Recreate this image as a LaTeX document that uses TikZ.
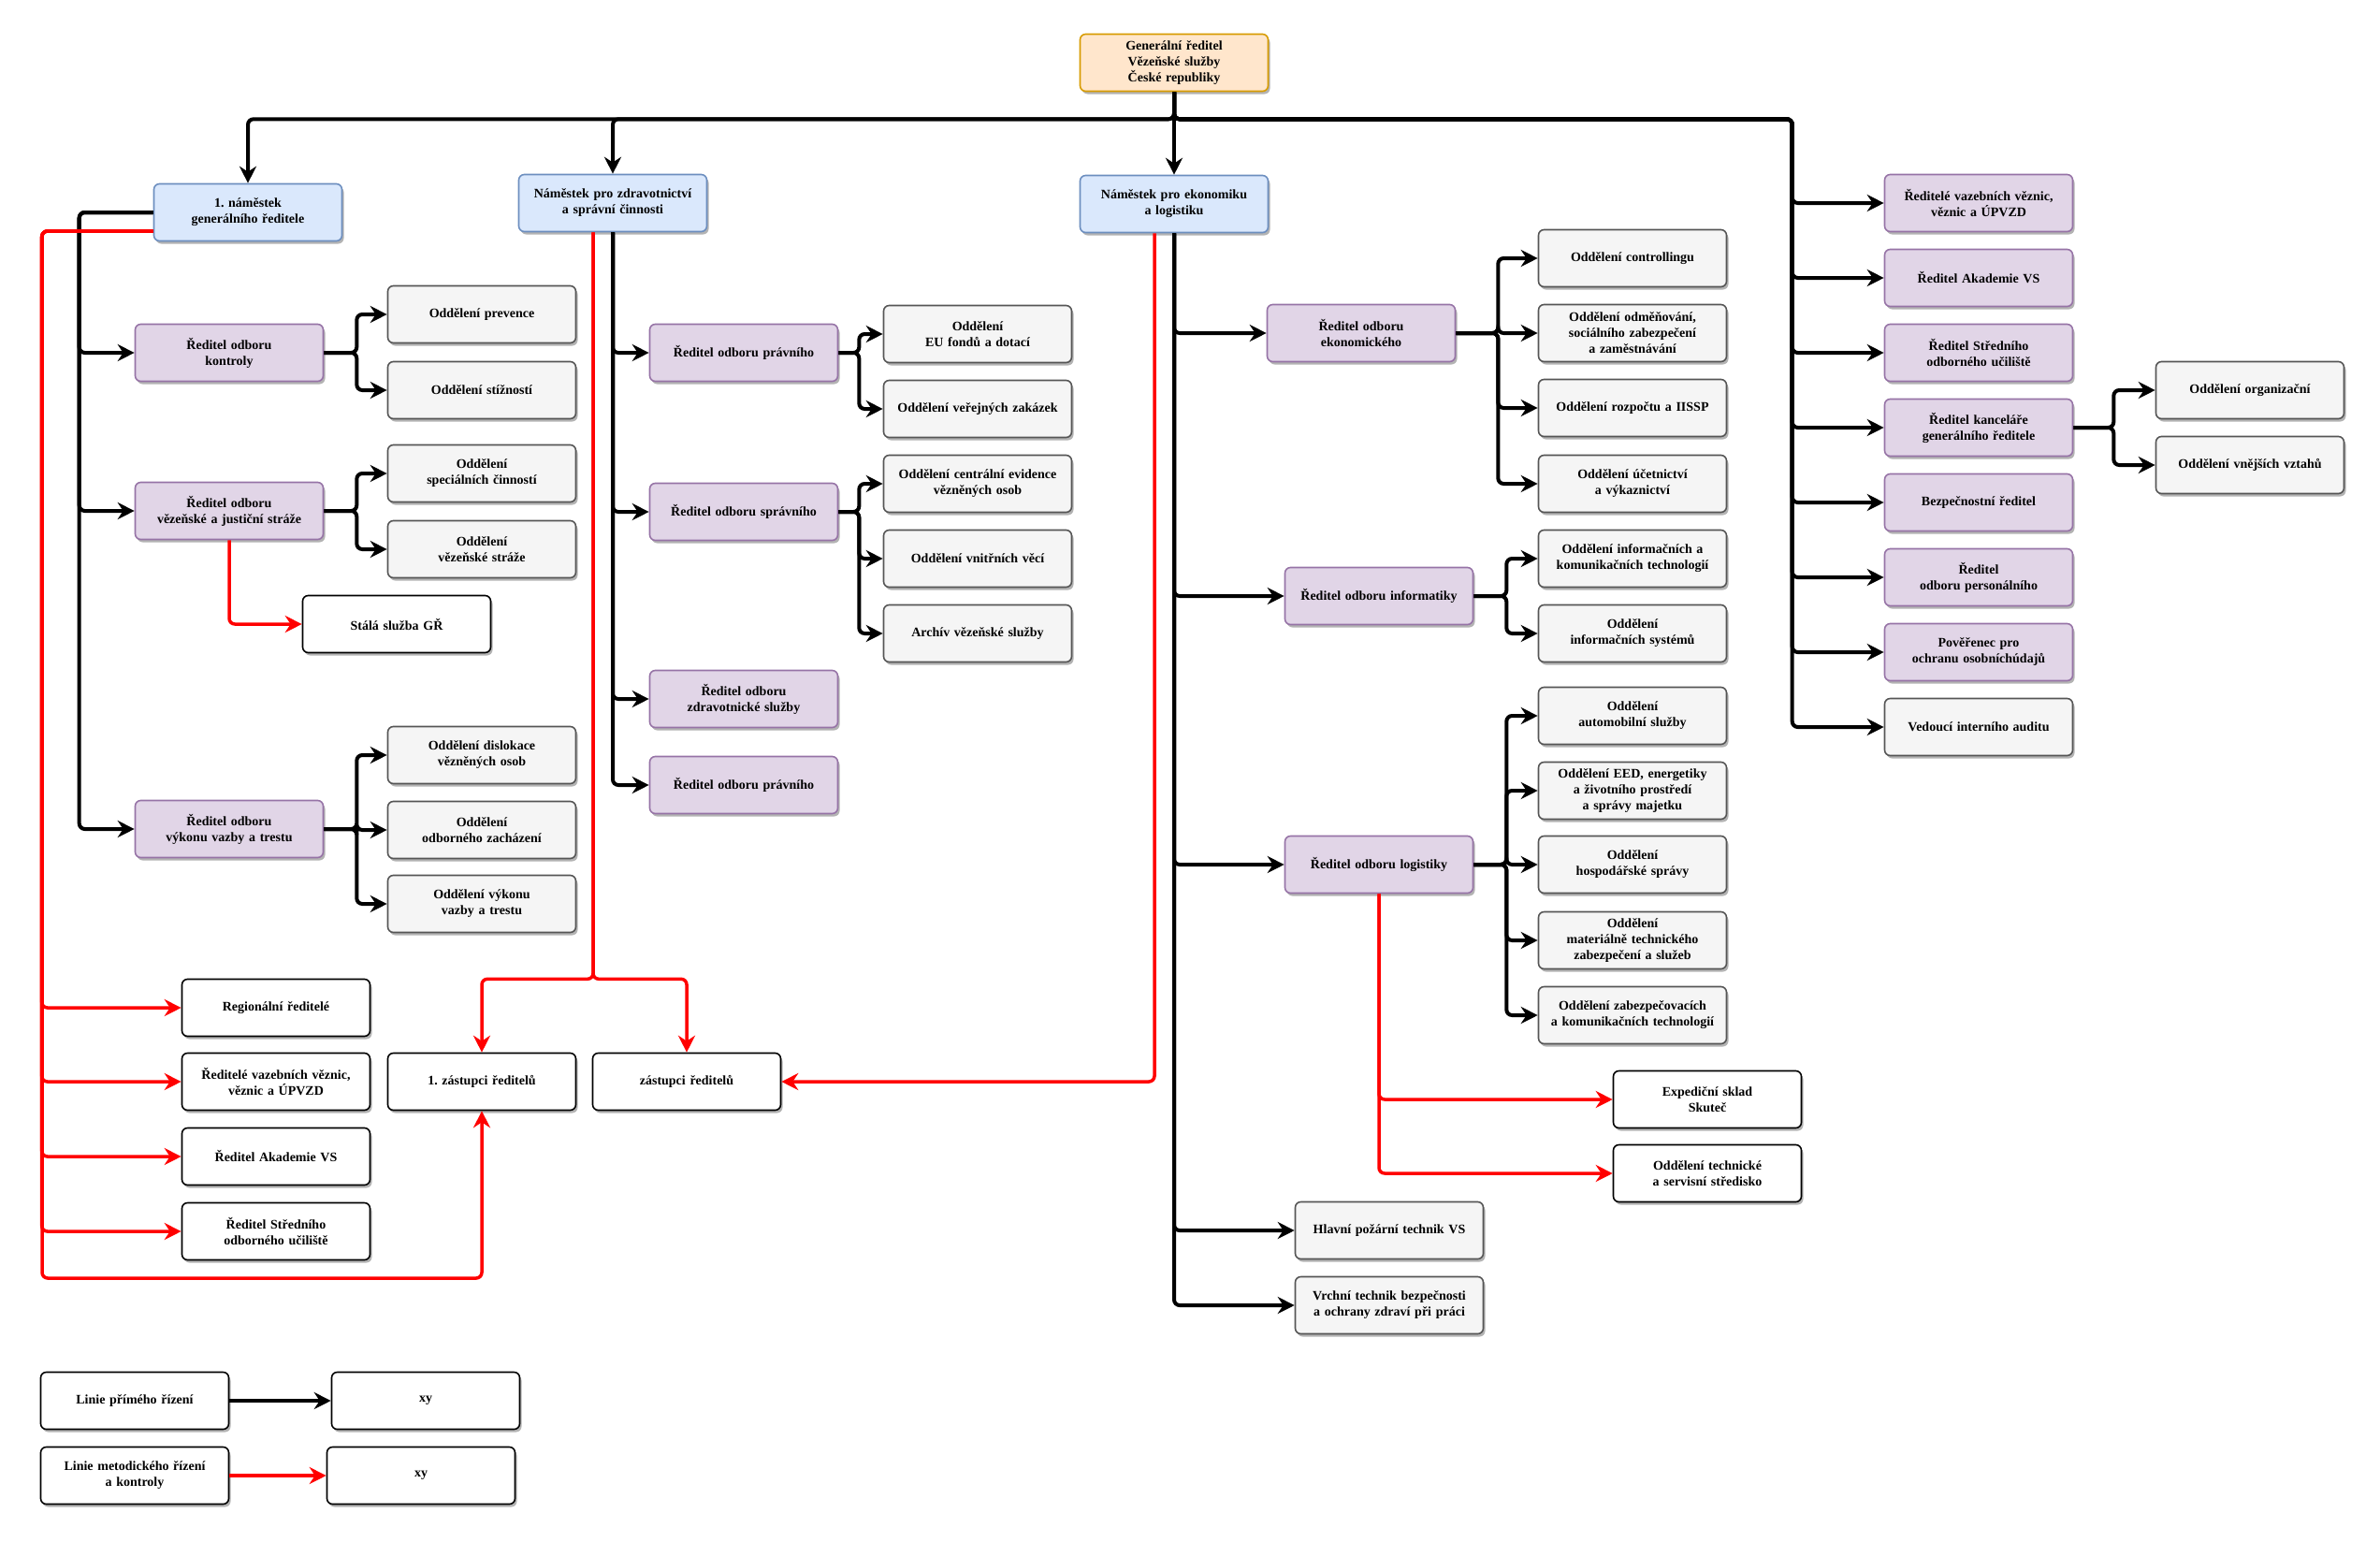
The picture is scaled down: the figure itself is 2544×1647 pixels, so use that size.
\documentclass[tikz,border=0pt]{standalone}
\usepackage{fontspec}
\setmainfont{Liberation Serif}
\usetikzlibrary{arrows.meta,shadows}

\definecolor{grfill}{HTML}{FFE6CC}
\definecolor{grline}{HTML}{D79B00}
\definecolor{depfill}{HTML}{DAE8FC}
\definecolor{depline}{HTML}{6C8EBF}
\definecolor{headfill}{HTML}{E1D5E7}
\definecolor{headline}{HTML}{9673A6}
\definecolor{unitfill}{HTML}{F5F5F5}
\definecolor{unitline}{HTML}{555555}

\begin{document}
\frenchspacing
\begin{tikzpicture}[x=1pt, y=-1pt,
 box/.style={draw, rounded corners=6pt, line width=1.6pt, minimum width=201pt, minimum height=61pt,
   text width=195pt, align=center, inner sep=0pt, font=\fontsize{14}{17}\selectfont\bfseries,
   drop shadow={shadow xshift=2pt, shadow yshift=-3pt, opacity=0.6}},
 gr/.style={box, fill=grfill, draw=grline},
 dep/.style={box, fill=depfill, draw=depline},
 head/.style={box, fill=headfill, draw=headline},
 unit/.style={box, fill=unitfill, draw=unitline},
 plain/.style={box, fill=white, draw=black},
 direct/.style={line width=4pt, rounded corners=6pt, -{Stealth[length=18pt,width=18pt,inset=6pt]}},
 method/.style={direct, line width=3.5pt, draw=red}]
\useasboundingbox (0,0) rectangle (2544,1647);
\coordinate (redcorner) at (45,1366);

\node[gr] (gr) at (1255,67) {Generální ředitel\\Vězeňské služby\\České republiky};
\node[dep] (n1) at (265,227) {1. náměstek\\generálního ředitele};
\node[dep] (n2) at (655,217) {Náměstek pro zdravotnictví\\a správní činnosti};
\node[dep] (n3) at (1255,218) {Náměstek pro ekonomiku\\a logistiku};

\node[head] (kontrola) at (245,377) {Ředitel odboru\\kontroly};
\node[head] (straz) at (245,546) {Ředitel odboru\\vězeňské a justiční stráže};
\node[head] (vykon) at (245,886) {Ředitel odboru\\výkonu vazby a trestu};
\node[unit] (prevence) at (515,336) {Oddělení prevence};
\node[unit] (stiznosti) at (515,417) {Oddělení stížností};
\node[unit] (specialni) at (515,506) {Oddělení\\speciálních činností};
\node[unit] (vezstraz) at (515,587) {Oddělení\\vězeňské stráže};
\node[plain] (stala) at (424,667) {Stálá služba GŘ};
\node[unit] (dislokace) at (515,807) {Oddělení dislokace\\vězněných osob};
\node[unit] (zachazeni) at (515,887) {Oddělení\\odborného zacházení};
\node[unit] (vykonvazby) at (515,966) {Oddělení výkonu\\vazby a trestu};

\node[plain] (regional) at (295,1077) {Regionální ředitelé};
\node[plain] (vazebni) at (295,1156) {Ředitelé vazebních věznic,\\věznic a ÚPVZD};
\node[plain] (akademie) at (295,1236) {Ředitel Akademie VS};
\node[plain] (stredni) at (295,1316) {Ředitel Středního\\odborného učiliště};
\node[plain] (zast1) at (515,1156) {1. zástupci ředitelů};
\node[plain] (zast2) at (734,1156) {zástupci ředitelů};

\node[plain] (lprime) at (144,1497) {Linie přímého řízení};
\node[plain] (xyprime) at (455,1497) {xy};
\node[plain] (lmetod) at (144,1577) {Linie metodického řízení\\a kontroly};
\node[plain] (xymetod) at (450,1577) {xy};

\node[head] (pravni) at (795,377) {Ředitel odboru právního};
\node[head] (spravni) at (795,547) {Ředitel odboru správního};
\node[head] (zdravsl) at (795,747) {Ředitel odboru\\zdravotnické služby};
\node[head] (pravnidva) at (795,839) {Ředitel odboru právního};
\node[unit] (eu) at (1045,357) {Oddělení\\EU fondů a dotací};
\node[unit] (verejne) at (1045,437) {Oddělení veřejných zakázek};
\node[unit] (centralni) at (1045,517) {Oddělení centrální evidence\\vězněných osob};
\node[unit] (vnitrni) at (1045,597) {Oddělení vnitřních věcí};
\node[unit] (archiv) at (1045,677) {Archív vězeňské služby};

\node[head] (ekonom) at (1455,356) {Ředitel odboru\\ekonomického};
\node[head] (informatika) at (1474,637) {Ředitel odboru informatiky};
\node[head] (logistika) at (1474,924) {Ředitel odboru logistiky};
\node[unit] (pozarni) at (1485,1315) {Hlavní požární technik VS};
\node[unit] (vrchni) at (1485,1395) {Vrchní technik bezpečnosti\\a ochrany zdraví při práci};
\node[unit] (controlling) at (1745,276) {Oddělení controllingu};
\node[unit] (odmenovani) at (1745,356) {Oddělení odměňování,\\sociálního zabezpečení\\a zaměstnávání};
\node[unit] (rozpocet) at (1745,436) {Oddělení rozpočtu a IISSP};
\node[unit] (ucetnictvi) at (1745,517) {Oddělení účetnictví\\a výkaznictví};
\node[unit] (infokom) at (1745,597) {Oddělení informačních a\\komunikačních technologií};
\node[unit] (infsys) at (1745,677) {Oddělení\\informačních systémů};
\node[unit] (automobil) at (1745,765) {Oddělení\\automobilní služby};
\node[unit] (eed) at (1745,845) {Oddělení EED, energetiky\\a životního prostředí\\a správy majetku};
\node[unit] (hospodar) at (1745,924) {Oddělení\\hospodářské správy};
\node[unit] (material) at (1745,1005) {Oddělení\\materiálně technického\\zabezpečení a služeb};
\node[unit] (zabezpec) at (1745,1085) {Oddělení zabezpečovacích\\a komunikačních technologií};
\node[plain] (exped) at (1825,1175) {Expediční sklad\\Skuteč};
\node[plain] (technicke) at (1825,1254) {Oddělení technické\\a servisní středisko};

\node[head] (rvazebni) at (2115,217) {Ředitelé vazebních věznic,\\věznic a ÚPVZD};
\node[head] (rakademie) at (2115,297) {Ředitel Akademie VS};
\node[head] (rstredni) at (2115,377) {Ředitel Středního\\odborného učiliště};
\node[head] (kancelar) at (2115,457) {Ředitel kanceláře\\generálního ředitele};
\node[head] (bezpecnost) at (2115,537) {Bezpečnostní ředitel};
\node[head] (personal) at (2115,617) {Ředitel\\odboru personálního};
\node[head] (poverenec) at (2115,697) {Pověřenec pro\\ochranu osobníchúdajů};
\node[unit] (audit) at (2115,777) {Vedoucí interního auditu};
\node[unit] (organizacni) at (2405,417) {Oddělení organizační};
\node[unit] (vnejsi) at (2405,497) {Oddělení vnějších vztahů};

\draw[direct] (gr.south) -- ++(0,29) -| (n1.north);
\draw[direct] (gr.south) -- ++(0,29) -| (n2.north);
\draw[direct] (gr.south) -- (n3.north);
\foreach \r in {rvazebni,rakademie,rstredni,kancelar,bezpecnost,personal,poverenec,audit}
 \draw[direct] (gr.south) -- ++(0,29) -| ([xshift=-98pt]\r.west) -- (\r.west);

\foreach \d in {kontrola,straz,vykon}
 \draw[direct] (n1.west) -| ([xshift=-59pt]\d.west) -- (\d.west);
\foreach \u in {prevence,stiznosti}
 \draw[direct] (kontrola.east) -- ++(35,0) |- (\u.west);
\foreach \u in {specialni,vezstraz}
 \draw[direct] (straz.east) -- ++(35,0) |- (\u.west);
\foreach \u in {dislokace,zachazeni,vykonvazby}
 \draw[direct] (vykon.east) -- ++(35,0) |- (\u.west);
\draw[method] (straz.south) |- (stala.west);

\foreach \r in {regional,vazebni,akademie,stredni}
 \draw[method] ([yshift=-20pt]n1.west) -| ([xshift=-149pt]\r.west) -- (\r.west);
\draw[method] ([yshift=-20pt]n1.west) -| (redcorner) -| (zast1.south);

\foreach \d in {pravni,spravni,zdravsl,pravnidva}
 \draw[direct] (n2.south) |- (\d.west);
\foreach \u in {eu,verejne}
 \draw[direct] (pravni.east) -- ++(22,0) |- (\u.west);
\foreach \u in {centralni,vnitrni,archiv}
 \draw[direct] (spravni.east) -- ++(22,0) |- (\u.west);
\draw[method] ([xshift=-21pt]n2.south) -- ++(0,798) -| (zast1.north);
\draw[method] ([xshift=-21pt]n2.south) -- ++(0,798) -| (zast2.north);

\foreach \d in {ekonom,informatika,logistika,pozarni,vrchni}
 \draw[direct] (n3.south) |- (\d.west);
\foreach \u in {controlling,odmenovani,rozpocet,ucetnictvi}
 \draw[direct] (ekonom.east) -- ++(45,0) |- (\u.west);
\foreach \u in {infokom,infsys}
 \draw[direct] (informatika.east) -- ++(35,0) |- (\u.west);
\foreach \u in {automobil,eed,hospodar,material,zabezpec}
 \draw[direct] (logistika.east) -- ++(35,0) |- (\u.west);
\draw[method] (logistika.south) |- (exped.west);
\draw[method] (logistika.south) |- (technicke.west);
\draw[method] ([xshift=-21pt]n3.south) |- (zast2.east);

\foreach \u in {organizacni,vnejsi}
 \draw[direct] (kancelar.east) -- ++(43,0) |- (\u.west);

\draw[direct] (lprime.east) -- (xyprime.west);
\draw[method] (lmetod.east) -- (xymetod.west);
\end{tikzpicture}
\end{document}
